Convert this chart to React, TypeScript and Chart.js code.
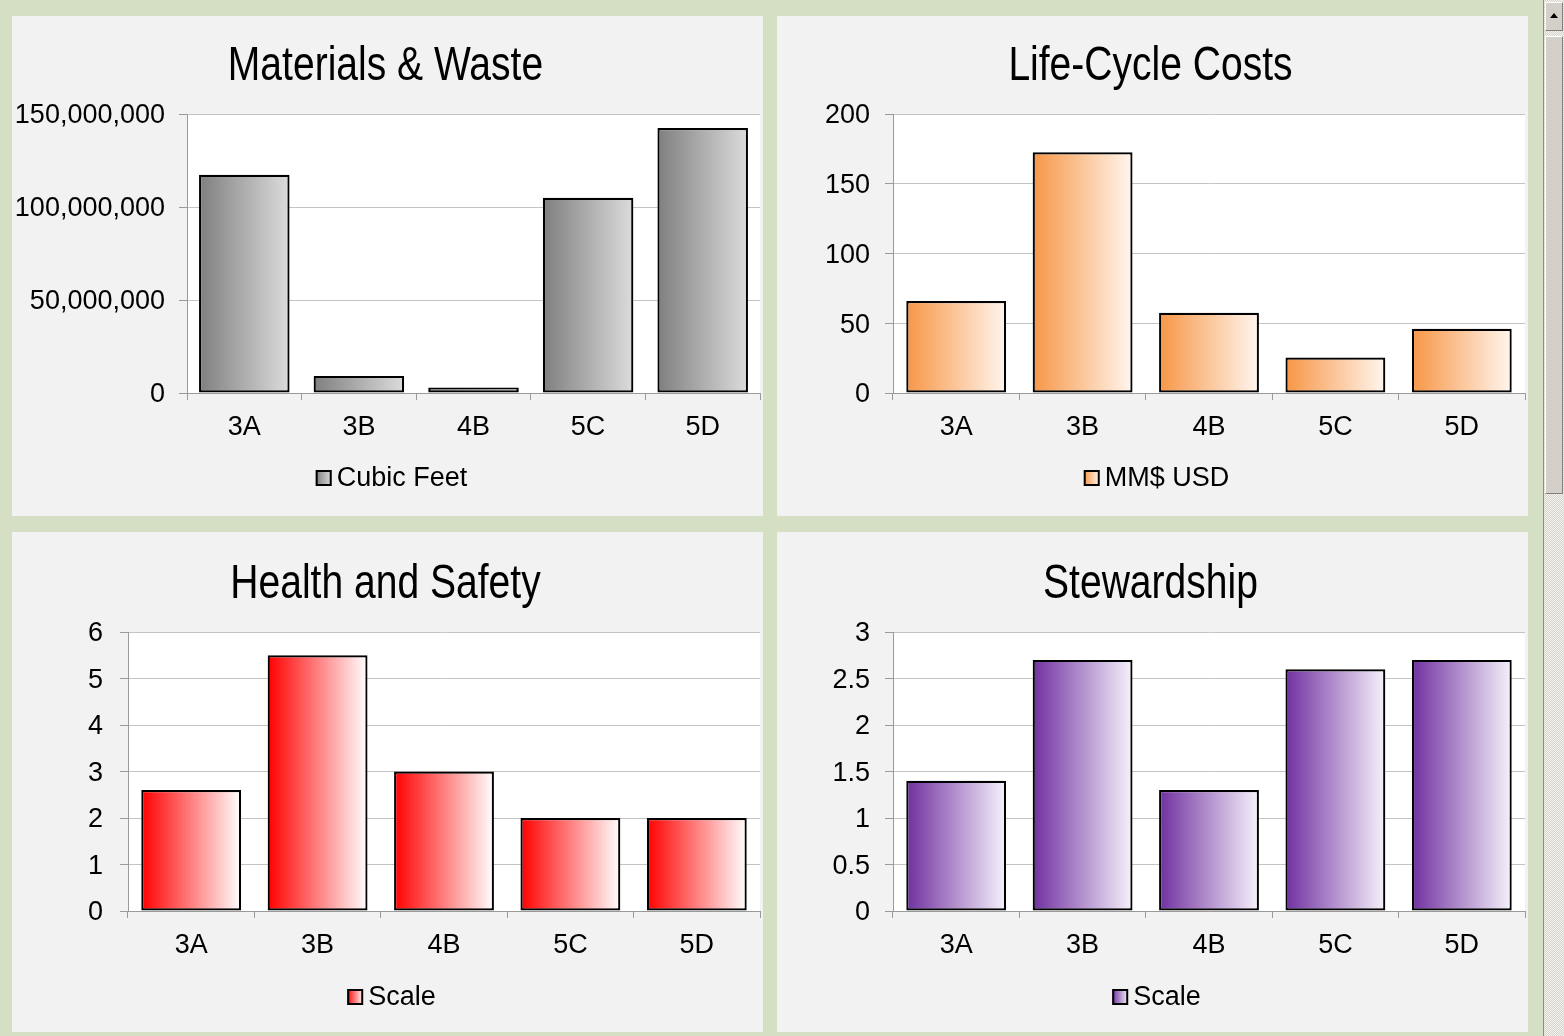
import React, { useEffect, useRef } from 'react';
import { Chart, registerables } from 'chart.js';

Chart.register(...registerables);

// ---------- data ----------
const categories = ['3A', '3B', '4B', '5C', '5D'];

const materialsWaste = [117300000, 9200000, 3000000, 105000000, 142500000];
const lifeCycleCosts = [66, 172.5, 57.5, 25.5, 46];
const healthSafety = [2.6, 5.5, 3, 2, 2];
const stewardship = [1.4, 2.7, 1.3, 2.6, 2.7];

const titles = ['Materials & Waste', 'Life-Cycle Costs', 'Health and Safety', 'Stewardship'];
const seriesLabels = ['Cubic Feet', 'MM$ USD', 'Scale', 'Scale'];

// y axis: [min, max, step]
const materialsAxis = [0, 150000000, 50000000];
const costsAxis = [0, 200, 50];
const healthAxis = [0, 6, 1];
const stewardshipAxis = [0, 3, 0.5];

// ---------- styles ----------
const TICK_FONT = "'Liberation Sans', Arial, sans-serif";
const GRID = '#c4c4c4';
const AXIS = '#9a9a9a';
const BAR_PCT = 0.79;
const TITLE_SIZE = 48.5;
const TITLE_SCALE_X = 0.805;

type Panel = {
  left: number; top: number; width: number; height: number;
  title: string; label: string; values: number[]; axis: number[];
  from: string; to: string;
  yWidth: number; tickPad: number; padTop: number; padBottom: number; legendY: number; titleBase: number;
};

const panels: Panel[] = [
  { left: 12, top: 16, width: 751, height: 500, title: titles[0], label: seriesLabels[0], values: materialsWaste, axis: materialsAxis,
    from: '#7f7f7f', to: '#dcdcdc', yWidth: 175, tickPad: 14, padTop: 98, padBottom: 73, legendY: 463, titleBase: 64 },
  { left: 777, top: 16, width: 751, height: 500, title: titles[1], label: seriesLabels[1], values: lifeCycleCosts, axis: costsAxis,
    from: '#f79646', to: '#fff6ef', yWidth: 116, tickPad: 15, padTop: 98, padBottom: 73, legendY: 463, titleBase: 64 },
  { left: 12, top: 532, width: 751, height: 500, title: titles[2], label: seriesLabels[2], values: healthSafety, axis: healthAxis,
    from: '#ff0000', to: '#ffffff', yWidth: 116, tickPad: 17, padTop: 100, padBottom: 71, legendY: 466, titleBase: 65.5 },
  { left: 777, top: 532, width: 751, height: 500, title: titles[3], label: seriesLabels[3], values: stewardship, axis: stewardshipAxis,
    from: '#7030a0', to: '#f6f2fb', yWidth: 116, tickPad: 15, padTop: 100, padBottom: 71, legendY: 466, titleBase: 65.5 },
];

const decorPlugin = {
  id: 'decor',
  beforeDraw(chart: any) {
    const { ctx, chartArea: a } = chart;
    ctx.save();
    ctx.fillStyle = '#ffffff';
    ctx.fillRect(a.left, a.top, a.right - a.left, a.bottom - a.top);
    ctx.restore();
  },
  afterDraw(chart: any, _args: any, opts: any) {
    const ctx = chart.ctx;
    // title (narrow face emulated by horizontal compression)
    ctx.save();
    ctx.font = `${TITLE_SIZE}px ${TICK_FONT}`;
    ctx.fillStyle = '#000';
    ctx.textAlign = 'center';
    ctx.textBaseline = 'alphabetic';
    ctx.translate(373.5, opts.titleBase);
    ctx.scale(TITLE_SCALE_X, 1);
    ctx.fillText(opts.title, 0, 0);
    ctx.restore();

    // legend
    const label = chart.data.datasets[0].label;
    ctx.save();
    ctx.font = `27px ${TICK_FONT}`;
    const tw = ctx.measureText(label).width;
    const box = 16;
    const gap = 5;
    const total = box + gap + tw;
    const x0 = chart.width / 2 + 4 - total / 2;
    const cy = opts.y;
    const g = ctx.createLinearGradient(x0, 0, x0 + box, 0);
    g.addColorStop(0, opts.from);
    g.addColorStop(1, opts.to);
    ctx.fillStyle = g;
    ctx.fillRect(x0, cy - box / 2 - 1, box, box);
    ctx.strokeStyle = '#000';
    ctx.lineWidth = 2;
    ctx.strokeRect(x0 + 1, cy - box / 2, box - 2, box - 2);
    ctx.fillStyle = '#000';
    ctx.textAlign = 'left';
    ctx.textBaseline = 'middle';
    ctx.fillText(label, x0 + box + gap, cy);
    ctx.restore();
  },
};

function BarPanel({ p }: { p: Panel }) {
  const ref = useRef<HTMLCanvasElement | null>(null);
  useEffect(() => {
    if (!ref.current) return;
    const chart = new Chart(ref.current, {
      type: 'bar',
      data: {
        labels: categories,
        datasets: [
          {
            label: p.label,
            data: p.values,
            borderColor: '#000000',
            borderWidth: 2.2,
            borderSkipped: false,
            categoryPercentage: 1,
            barPercentage: BAR_PCT,
            backgroundColor: (c: any) => {
              const chartObj = c.chart;
              const xs = chartObj.scales && chartObj.scales.x;
              if (!xs || c.dataIndex === undefined) return p.from;
              const cw = (xs.right - xs.left) / categories.length;
              const cx = xs.getPixelForValue(c.dataIndex);
              const half = (cw * BAR_PCT) / 2;
              if (!isFinite(cw) || !isFinite(cx) || !isFinite(half) || half <= 0) return p.from;
              const g = chartObj.ctx.createLinearGradient(cx - half, 0, cx + half, 0);
              g.addColorStop(0, p.from);
              g.addColorStop(1, p.to);
              return g;
            },
          } as any,
        ],
      },
      options: {
        responsive: false,
        animation: false,
        events: [],
        layout: { padding: { top: p.padTop, bottom: p.padBottom, left: 0, right: 3 } },
        plugins: {
          legend: { display: false },
          tooltip: { enabled: false },
          title: { display: false },
          decor: { y: p.legendY, from: p.from, to: p.to, title: p.title, titleBase: p.titleBase },
        } as any,
        scales: {
          x: {
            grid: { display: true, drawOnChartArea: false, drawTicks: true, tickLength: 7, color: AXIS, offset: true },
            border: { display: true, color: AXIS, width: 1 },
            ticks: { color: '#000', font: { family: TICK_FONT, size: 27 }, padding: 11, maxRotation: 0, autoSkip: false },
            afterFit: (s: any) => { s.height = 50; },
          },
          y: {
            min: p.axis[0],
            max: p.axis[1],
            ticks: {
              stepSize: p.axis[2],
              color: '#000',
              font: { family: TICK_FONT, size: 27 },
              padding: p.tickPad,
              labelOffset: 2,
              callback: (v: any) => Number(v).toLocaleString('en-US'),
            },
            grid: { color: GRID, tickColor: AXIS, tickLength: 8, drawTicks: true },
            border: { display: true, color: AXIS, width: 1 },
            afterFit: (s: any) => { s.width = p.yWidth; },
          },
        } as any,
      },
      plugins: [decorPlugin],
    });
    return () => chart.destroy();
  }, []);
  return (
    <div style={{ position: 'absolute', left: p.left, top: p.top, width: p.width, height: p.height, background: '#f2f2f2' }}>
      <canvas ref={ref} width={p.width} height={p.height} style={{ position: 'absolute', left: 0, top: 0, width: p.width, height: p.height }} />
    </div>
  );
}

function Scrollbar() {
  return (
    <div style={{ position: 'absolute', left: 1543, top: 0, width: 21, height: 1036, borderLeft: '1px solid #8c8c8c', boxSizing: 'border-box',
      background: 'repeating-conic-gradient(#d6d3cc 0 25%, #f4f3f0 0 50%) 0 0 / 2px 2px' }}>
      <div style={{ position: 'absolute', left: 1, top: 2, width: 18, height: 29, background: '#d4d0c8', borderTop: '1px solid #fff', borderLeft: '1px solid #fff', borderRight: '1px solid #808080', borderBottom: '1px solid #808080', boxSizing: 'border-box' }}>
        <div style={{ position: 'absolute', left: 4, top: 10, width: 0, height: 0, borderLeft: '4px solid transparent', borderRight: '4px solid transparent', borderBottom: '5px solid #000' }} />
      </div>
      <div style={{ position: 'absolute', left: 1, top: 36, width: 18, height: 458, background: '#d4d0c8', borderTop: '1px solid #fff', borderLeft: '1px solid #fff', borderRight: '1px solid #808080', borderBottom: '1px solid #808080', boxSizing: 'border-box' }} />
    </div>
  );
}

export default function App() {
  return (
    <div style={{ position: 'fixed', left: 0, top: 0, width: 1564, height: 1036, background: '#d4dfc4', overflow: 'hidden' }}>
      {panels.map((p, i) => (
        <BarPanel key={i} p={p} />
      ))}
      <Scrollbar />
    </div>
  );
}
